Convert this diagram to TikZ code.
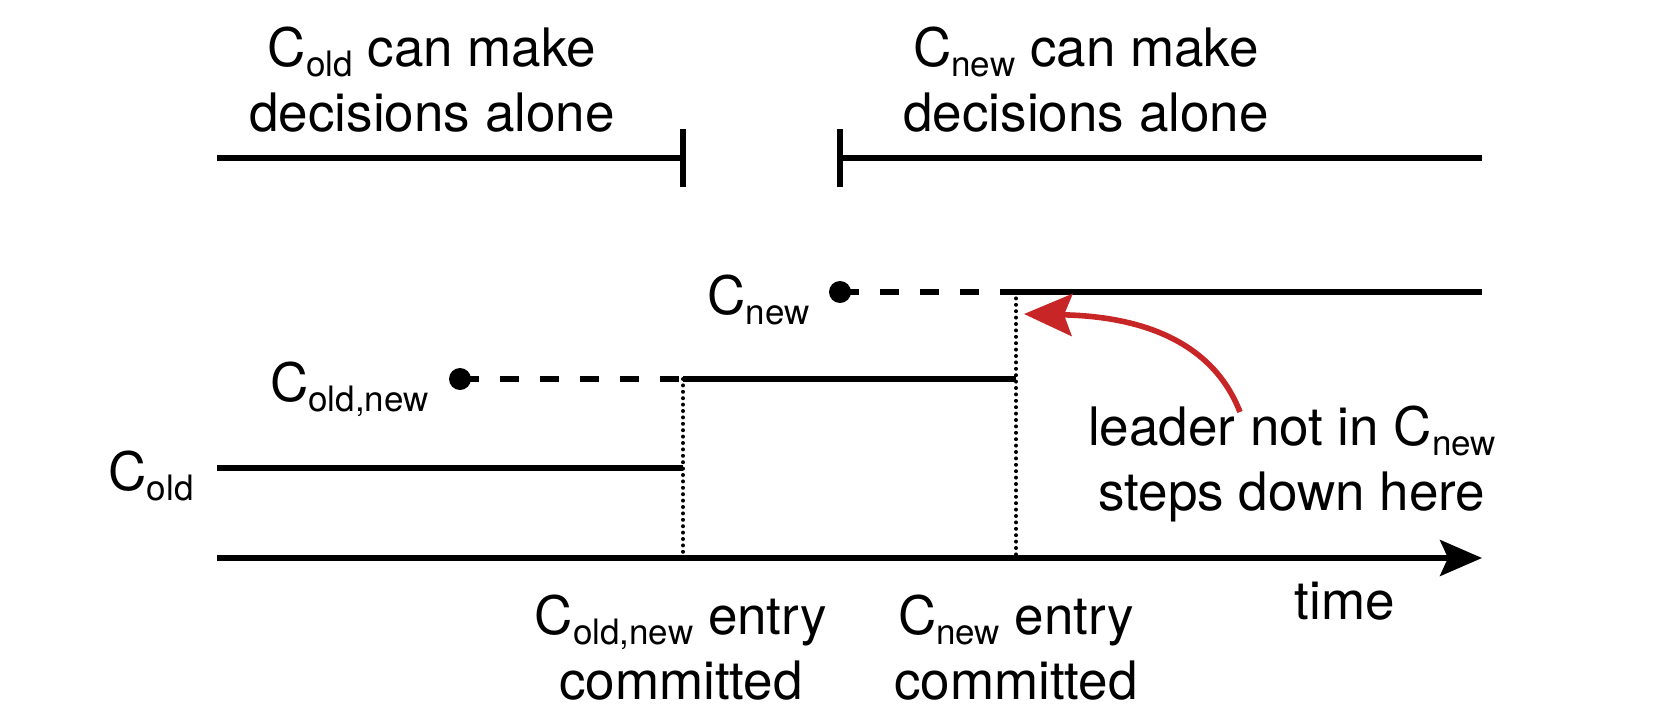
\documentclass[tikz,border=0pt]{standalone}
\usepackage{fontspec}
\setmainfont{TeX Gyre Heros}
\usetikzlibrary{arrows.meta}
% lowered, smaller subscript for configuration names
\newcommand{\lowsub}[1]{\raisebox{-0.2em}{\fontsize{17.5}{18}\selectfont #1}}
\definecolor{arrowred}{RGB}{200,38,38}
\begin{document}
\begin{tikzpicture}[x=0.5pt,y=-0.5pt,
  every node/.style={font=\fontsize{26.5}{32.5}\selectfont, inner sep=0pt},
  solidline/.style={line width=2.6pt},
  dashline/.style={line width=2.6pt, dash pattern=on 9.5pt off 10.5pt},
  dotline/.style={line width=2pt, line cap=round, dash pattern=on 0pt off 3.2pt},
  tick/.style={line width=2.6pt},
  dotmark/.style={circle, fill=black, minimum size=11pt, inner sep=0pt},
  lbl/.style={align=center, anchor=base}]
\useasboundingbox (0,0) rectangle (1660,712);

% decision phases (node base = baseline of the last line)
\node[lbl] (oldalone) at (432,131) {C\lowsub{old} can make\\decisions alone};
\node[lbl] (newalone) at (1086,131) {C\lowsub{new} can make\\decisions alone};
\coordinate (p1s) at (217,158);
\coordinate (p1e) at (683,158);
\coordinate (p2s) at (840,158);
\coordinate (p2e) at (1482,158);
\coordinate (t1a) at (683,129); \coordinate (t1b) at (683,187);
\coordinate (t2a) at (840,129); \coordinate (t2b) at (840,187);
\draw[solidline] (p1s) -- (p1e);
\draw[tick] (t1a) -- (t1b);
\draw[solidline] (p2s) -- (p2e);
\draw[tick] (t2a) -- (t2b);

% configuration rows
\coordinate (commitA) at (683,379);
\coordinate (commitB) at (1016,292);
\coordinate (commitBmid) at (1016,379);
\coordinate (axisA) at (683,558);
\coordinate (axisB) at (1016,558);
\coordinate (oldA) at (683,468);

% C_new
\node[dotmark] (newdot) at (840,292) {};
\node[anchor=base east] (newlbl) at (810,314) {C\lowsub{new}};
\coordinate (newend) at (1482,292);
\draw[dashline] (newdot.center) -- (commitB);
\draw[solidline] (commitB) -- (newend);

% C_old,new
\node[dotmark] (jointdot) at (460,379) {};
\node[anchor=base east] (jointlbl) at (429,401) {C\lowsub{old,new}};
\draw[dashline] (jointdot.center) -- (commitA);
\draw[solidline] (commitA) -- (commitBmid);

% C_old
\coordinate (oldstart) at (217,468);
\node[anchor=base east] (oldlbl) at (194,490) {C\lowsub{old}};
\draw[solidline] (oldstart) -- (oldA);

% commit markers
\draw[dotline] (commitA) -- (axisA);
\draw[dotline] (commitB) -- (axisB);

% time axis
\coordinate (axisstart) at (217,558);
\coordinate (axisend) at (1482,558);
\draw[solidline, -{Stealth[length=21pt,width=18pt,inset=4pt]}] (axisstart) -- (axisend);
\node[anchor=base] (timelbl) at (1345,619) {time};

\node[lbl] (jointcommit) at (681,699) {C\lowsub{old,new} entry\\committed};
\node[lbl] (newcommit) at (1016,699) {C\lowsub{new} entry\\committed};

% step-down annotation
\node[lbl] (leader) at (1292,510) {leader not in C\lowsub{new}\\steps down here};
\coordinate (leadstart) at (1240,412);
\coordinate (leadtip) at (1024,314);
\draw[arrowred, line width=2.8pt, -{Stealth[length=24pt,width=21pt,inset=4pt]}]
  (leadstart) .. controls (1208,330) and (1120,316) .. (leadtip);
\end{tikzpicture}
\end{document}
